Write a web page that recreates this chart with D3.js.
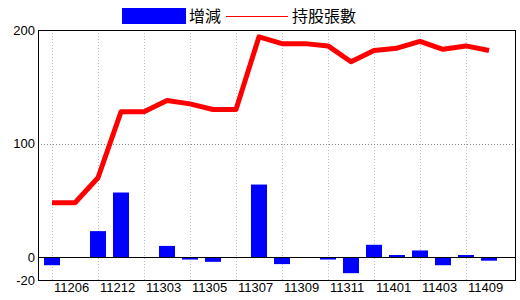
<!DOCTYPE html>
<html><head><meta charset="utf-8">
<script src="https://cdn.jsdelivr.net/npm/d3@7"></script>
<style>
body{margin:0;background:#fff;}
svg{display:block;}
text{font-family:"Liberation Sans Narrow","Liberation Sans",Arial,sans-serif;}
</style></head>
<body><svg id="c" width="520" height="300"></svg>
<script>
const categories = ["11206","11209","11212","11301","11303","11304","11305","11306","11307","11308",
  "11309","11310","11311","11312","11401","11402","11403","11406","11409","11410"];
const tickLabels = ["11206","11212","11303","11305","11307","11309","11311","11401","11403","11409"];
const changeValues = [-7,0,23,57,0,10,-2,-4,0,64,-6,0,-2,-14,11,2,6,-7,2,-3];
const holdingValues = [48,48,70,128,128,138,135,130,130,194,188,188,186,172,182,184,190,183,186,182];
const yTicks = [200,100,0,-20];
const seriesNames = ["增減","持股張數"];

const svg = d3.select("#c");
const L = 38, R = 516, T = 30, B = 280;
const x = d3.scalePoint().domain(categories).range([52, 489]);
const y = d3.scaleLinear().domain([-20, 200]).range([B, T]);

// vertical grid
svg.append("g").selectAll("line").data(tickLabels).join("line")
  .attr("x1", d => x(d)+0.5).attr("x2", d => x(d)+0.5)
  .attr("y1", T).attr("y2", B)
  .attr("stroke", "#a8c4d4").attr("stroke-dasharray", "1,2");
// horizontal grid at 100
svg.append("g").selectAll("line").data(yTicks.filter(v => v > 0 && v < 200)).join("line")
  .attr("x1", L).attr("x2", R).attr("y1", d => Math.round(y(d))+0.5).attr("y2", d => Math.round(y(d))+0.5)
  .attr("stroke", "#888").attr("stroke-dasharray", "1,2");

// bars
const bw = 16;
svg.append("g").selectAll("rect").data(changeValues.map((v,i)=>({c:categories[i], v}))).join("rect")
  .attr("x", d => x(d.c) - bw/2)
  .attr("y", d => Math.min(y(d.v), y(0)))
  .attr("width", bw)
  .attr("height", d => Math.abs(y(d.v) - y(0)))
  .attr("fill", "#0000ff");

// zero line
svg.append("line").attr("x1", L).attr("x2", R).attr("y1", Math.round(y(0))+0.5).attr("y2", Math.round(y(0))+0.5)
  .attr("stroke", "#000");

// line
const line = d3.line().x((d,i) => x(categories[i])).y(d => y(d));
svg.append("path").datum(holdingValues).attr("d", line)
  .attr("fill", "none").attr("stroke", "#ff0000").attr("stroke-width", 5)
  .attr("stroke-linejoin", "round");

// frame
svg.append("rect").attr("x", L+0.5).attr("y", T+0.5).attr("width", R-L-1).attr("height", B-T)
  .attr("fill", "none").attr("stroke", "#000");

// y labels
svg.append("g").selectAll("text").data(yTicks).join("text")
  .attr("x", 35).attr("y", d => y(d)).attr("dy", "0.35em")
  .attr("text-anchor", "end").attr("font-size", 13).attr("fill", "#000").text(d => d);

// x labels
svg.append("g").selectAll("text").data(tickLabels).join("text")
  .attr("x", d => x(d) + 2).attr("y", 292)
  .attr("text-anchor", "start").attr("font-size", 13).attr("fill", "#000").text(d => d);

// legend
svg.append("rect").attr("x", 122).attr("y", 8).attr("width", 64).attr("height", 16).attr("fill", "#0000ff");
svg.append("text").attr("x", 189).attr("y", 22).attr("font-size", 16)
  .style("font-family", "'Noto Sans CJK TC'").text(seriesNames[0]);
svg.append("line").attr("x1", 226).attr("x2", 288).attr("y1", 16.5).attr("y2", 16.5).attr("stroke", "#ff0000");
svg.append("text").attr("x", 292).attr("y", 22).attr("font-size", 16)
  .style("font-family", "'Noto Sans CJK TC'").text(seriesNames[1]);
</script></body></html>
